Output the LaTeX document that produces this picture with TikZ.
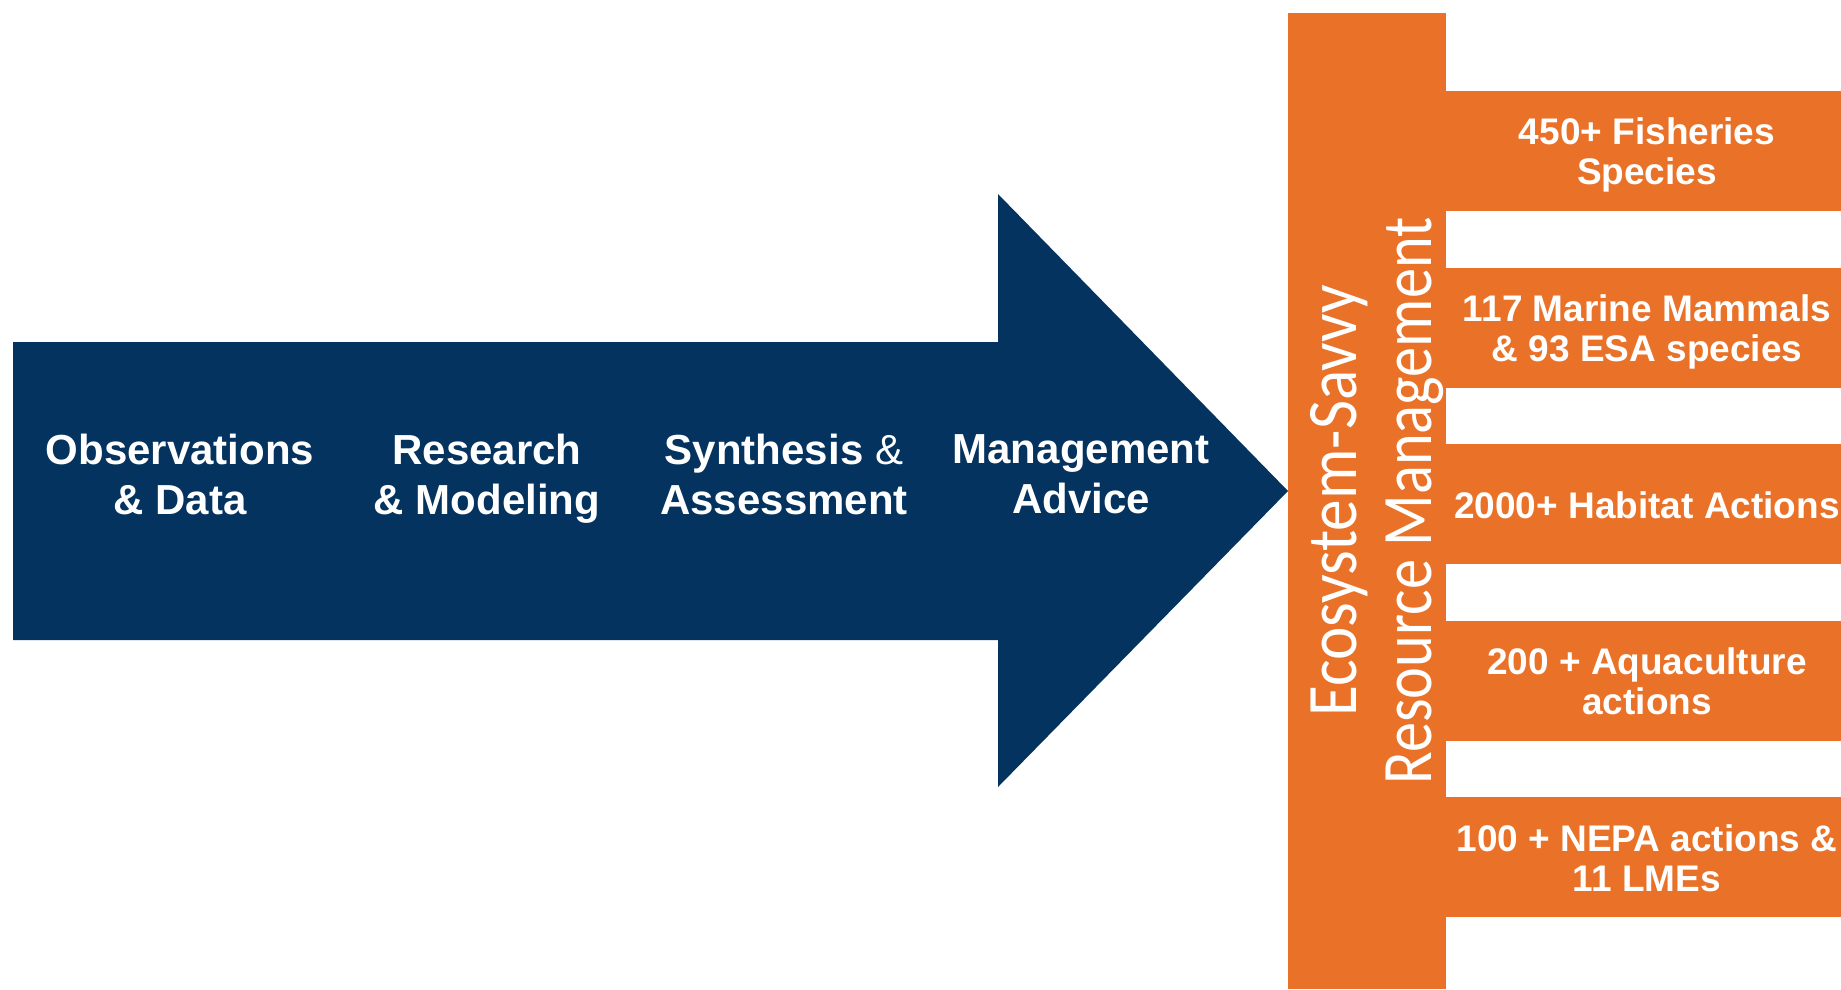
\documentclass[tikz,border=0pt]{standalone}
\usepackage{fontspec}
\setmainfont{Liberation Sans}
\newfontfamily\savvyfont{Carlito}
\usepackage{tikz}

\definecolor{navy}{HTML}{03335E}
\definecolor{rust}{HTML}{E97228}

\begin{document}
\begin{tikzpicture}[x=1pt,y=-1pt]
		\useasboundingbox (0,0) rectangle (1841,989);

		% big arrow and the orange comb
		\fill[navy] (13,342) -- (998,342) -- (998,194) -- (1288,491)
			-- (998,787) -- (998,640) -- (13,640) -- cycle;
		\fill[rust] (1288,13) rectangle (1446,989);
		\foreach \t in {91,267.5,444,620.5,797}
			\fill[rust] (1446,\t) rectangle (1841,\t+120);

		\begin{scope}[every node/.style={text=white,align=center,anchor=north,inner sep=0,
			font=\bfseries\fontsize{42}{50}\selectfont}]
			\node (S1) at (180,434) {Observations\\\& Data};
			\node (S2) at (487,434) {Research\\\& Modeling};
			\node (S3) at (784,434) {Synthesis {\mdseries\&}\\Assessment};
			\node (S4) at (1081,434) {Management\\Advice};
		\end{scope}

		\begin{scope}[every node/.style={text=white,rotate=90,anchor=base,inner sep=0,
			font=\savvyfont\fontsize{71}{75}\selectfont}]
			\node (E1) at (1356,501) {\scalebox{0.89}[1]{Ecosystem-Savvy}};
			\node (E2) at (1431,501) {\scalebox{0.85}[1]{Resource Management}};
		\end{scope}

		\begin{scope}[every node/.style={text=white,align=center,anchor=north,inner sep=0,
			font=\bfseries\fontsize{37}{40}\selectfont}]
			\node (B1) at (1647,117.5) {450+ Fisheries\\Species};
			\node (B2) at (1647,294) {117 Marine Mammals\\\& 93 ESA species};
			\node (B3) at (1647,491) {2000+ Habitat Actions};
			\node (B4) at (1647,647) {200 + Aquaculture\\actions};
			\node (B5) at (1647,824) {100 + NEPA actions \&\\11 LMEs};
		\end{scope}
	\end{tikzpicture}
\end{document}
